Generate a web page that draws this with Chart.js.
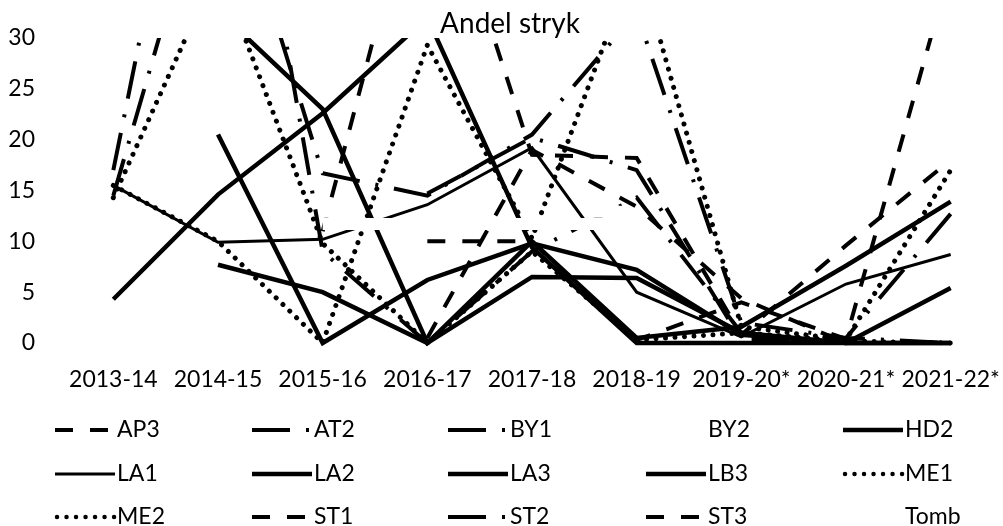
<!DOCTYPE html>
<html>
<head>
<meta charset="utf-8">
<script src="https://cdn.jsdelivr.net/npm/chart.js@4.4.1/dist/chart.umd.min.js"></script>
<style>
html,body{margin:0;padding:0;background:#fff;}
#wrap{width:1003px;height:526px;position:relative;}
canvas{display:block;}
</style>
</head>
<body>
<div id="wrap"><canvas id="c" width="1003" height="526"></canvas></div>
<script>
// ---------- data ----------
const categories = ['2013-14','2014-15','2015-16','2016-17','2017-18','2018-19','2019-20*','2020-21*','2021-22*'];
const yTicks = [0, 5, 10, 15, 20, 25, 30];
const chartTitle = 'Andel stryk';

const AP3  = [null, null, 11.0, 50.0, 18.5, 18.2, 0.8, 9.6, 18.0];
const AT2  = [17.0, 68.0, 9.0, 0.0, 9.0, 14.3, 1.0, 0.0, 0.0];
const BY1  = [14.5, 50.0, 16.7, 14.5, 20.5, 32.5, 2.0, 0.5, 0.0];
const BY2  = [null, null, 12.9, 12.9, 12.9, 12.9, null, null, null];
const HD2  = [4.3, 14.6, 22.6, 32.0, 9.4, 0.0, 0.0, 0.0, 0.0];
const LA1  = [15.5, 9.9, 10.2, 13.6, 19.2, 5.0, 0.6, 5.8, 8.7];
const LA2  = [null, 20.5, 0.0, 6.2, 9.8, 7.2, 0.8, 0.0, 5.4];
const LA3  = [null, 32.7, 23.0, 0.0, 6.5, 6.4, 1.0, 0.0, 0.0];
const LB3  = [null, 7.7, 5.0, 0.0, 10.0, 0.5, 1.6, 7.6, 13.9];
const ME1  = [15.5, 10.0, 0.0, 29.3, 10.3, 38.0, 1.6, 0.3, 17.0];
const ME2  = [14.3, 37.0, 9.8, 0.0, 9.0, 0.3, 1.0, 0.2, 0.0];
const ST1  = [null, null, null, 10.0, 10.0, 0.3, 4.0, 0.4, 37.0];
const ST2  = [null, null, null, 14.7, 20.2, 17.0, 0.3, 0.5, 12.7];
const ST3  = [null, null, null, 0.5, 19.0, 13.4, 4.4, 0.0, 0.0];
const Tomb = [null, null, 11.7, 11.7, 11.7, 11.7, null, null, null];

const seriesNames  = ['AP3','AT2','BY1','BY2','HD2','LA1','LA2','LA3','LB3','ME1','ME2','ST1','ST2','ST3','Tomb'];
const seriesValues = [AP3, AT2, BY1, BY2, HD2, LA1, LA2, LA3, LB3, ME1, ME2, ST1, ST2, ST3, Tomb];

// ---------- styles ----------
const DASH = [18, 17];
const LONGDASHDOT = [38, 16, 3, 16];
const DOT = [0.01, 9.5];
const styles = {
  AP3:  {c:'#000', w:4,   d:DASH,        cap:'butt'},
  AT2:  {c:'#000', w:4,   d:LONGDASHDOT, cap:'butt'},
  BY1:  {c:'#000', w:4,   d:LONGDASHDOT, cap:'butt'},
  BY2:  {c:'#fff', w:12,  d:[],          cap:'butt'},
  HD2:  {c:'#000', w:4.5, d:[],          cap:'butt'},
  LA1:  {c:'#000', w:3,   d:[],          cap:'butt'},
  LA2:  {c:'#000', w:4.5, d:[],          cap:'butt'},
  LA3:  {c:'#000', w:4.5, d:[],          cap:'butt'},
  LB3:  {c:'#000', w:4.5, d:[],          cap:'butt'},
  ME1:  {c:'#000', w:5,   d:DOT,         cap:'round'},
  ME2:  {c:'#000', w:5,   d:DOT,         cap:'round'},
  ST1:  {c:'#000', w:4,   d:DASH,        cap:'butt'},
  ST2:  {c:'#000', w:4,   d:LONGDASHDOT, cap:'butt'},
  ST3:  {c:'#000', w:4,   d:DASH,        cap:'butt'},
  Tomb: {c:'#fff', w:12,  d:[],          cap:'butt'}
};

const FONT = 'Lato';
Chart.defaults.font.family = FONT;
Chart.defaults.color = '#000';

const datasets = seriesNames.map((name, i) => {
  const s = styles[name];
  return {
    label: name,
    data: seriesValues[i],
    borderColor: s.c,
    backgroundColor: s.c,
    borderWidth: s.w,
    borderDash: s.d,
    borderCapStyle: s.cap,
    borderJoinStyle: 'miter',
    pointRadius: 0,
    pointHoverRadius: 0,
    tension: 0,
    fill: false,
    spanGaps: false,
    order: -i,
    clip: {left: 6, right: 6, top: 0, bottom: 6}
  };
});

// custom title + legend (grid of 5 columns)
const decor = {
  id: 'decor',
  afterDraw(chart) {
    const ctx = chart.ctx;
    ctx.save();
    ctx.fillStyle = '#000';
    ctx.font = '28px ' + FONT;
    ctx.textAlign = 'center';
    ctx.textBaseline = 'alphabetic';
    ctx.fillText(chartTitle, 510, 33);

    const colX = [55, 252, 448, 646, 843];
    const rowY = [430, 474, 517];
    const sampleLen = 60;
    ctx.font = '23px ' + FONT;
    ctx.textAlign = 'left';
    ctx.textBaseline = 'middle';
    seriesNames.forEach((name, i) => {
      const s = styles[name];
      const x0 = colX[i % 5];
      const y = rowY[Math.floor(i / 5)];
      ctx.save();
      ctx.strokeStyle = s.c;
      ctx.lineWidth = Math.min(s.w, 4.5);
      ctx.setLineDash(s.d);
      ctx.lineDashOffset = 0;
      ctx.lineCap = s.cap;
      ctx.beginPath();
      const start = s.cap === 'round' ? x0 + 2 : x0;
      ctx.moveTo(start, y);
      ctx.lineTo(x0 + sampleLen, y);
      ctx.stroke();
      ctx.restore();
      ctx.fillStyle = '#000';
      ctx.fillText(name, x0 + 62, y);
    });
    ctx.restore();
  }
};

new Chart(document.getElementById('c'), {
  type: 'line',
  data: { labels: categories, datasets },
  options: {
    responsive: false,
    animation: false,
    devicePixelRatio: 1,
    layout: { padding: { top: 38, bottom: 126, left: 0, right: 0 } },
    plugins: {
      legend: { display: false },
      title: { display: false },
      tooltip: { enabled: false }
    },
    scales: {
      x: {
        type: 'category',
        offset: true,
        grid: { display: false, drawTicks: false },
        border: { display: false },
        ticks: { font: { size: 23 }, color: '#000', padding: 23, maxRotation: 0, minRotation: 0, autoSkip: false },
        afterFit(scale) { scale.height = 57; scale.paddingLeft = 0; scale.paddingRight = 0; }
      },
      y: {
        min: 0, max: 30,
        grid: { display: false, drawTicks: false },
        border: { display: false },
        ticks: { font: { size: 23 }, color: '#000', padding: 26, stepSize: 5 },
        afterBuildTicks(scale) { scale.ticks = yTicks.map(v => ({ value: v })); },
        afterFit(scale) { scale.width = 61; scale.paddingTop = 0; scale.paddingBottom = 0; }
      }
    }
  },
  plugins: [decor]
});
</script>
</body>
</html>
